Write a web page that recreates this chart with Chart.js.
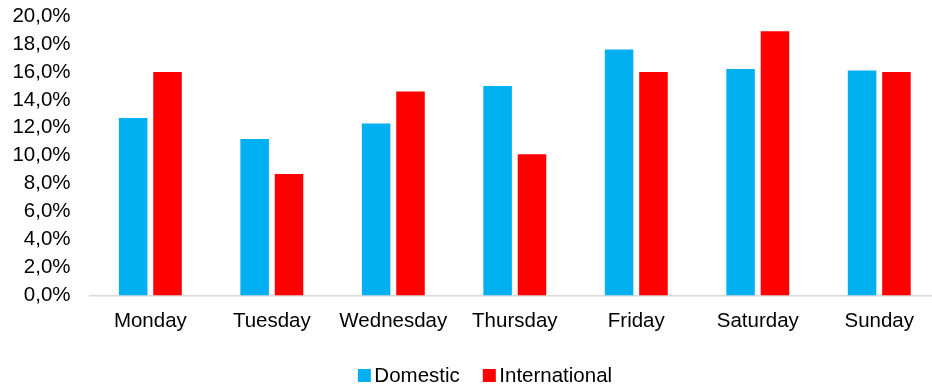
<!DOCTYPE html>
<html>
<head>
<meta charset="utf-8">
<script src="https://cdn.jsdelivr.net/npm/chart.js@4/dist/chart.umd.min.js"></script>
<style>
  html, body { margin: 0; padding: 0; background: #fff; overflow: hidden; }
  #wrap { width: 942px; height: 385px; position: relative; }
</style>
</head>
<body>
<div id="wrap"><canvas id="chart"></canvas></div>
<script>
// Share of trips by day of week
const days = ['Monday', 'Tuesday', 'Wednesday', 'Thursday', 'Friday', 'Saturday', 'Sunday'];
const seriesNames = ['Domestic', 'International'];
const domestic = [12.7, 11.2, 12.3, 15.0, 17.6, 16.2, 16.1];
const international = [16.0, 8.7, 14.6, 10.1, 16.0, 18.9, 16.0];
const yTicks = [0, 2, 4, 6, 8, 10, 12, 14, 16, 18, 20];

const FONT = { family: '"Liberation Sans", Arial, sans-serif', size: 20.5 };

// Compact legend under the axis: small square swatch, tight gap to the text
const bottomLegend = {
  id: 'bottomLegend',
  afterDraw(chart) {
    const ctx = chart.ctx;
    const box = 13, gapText = 3.5, gapItem = 23;
    const cy = 375.5;
    ctx.save();
    ctx.font = FONT.size + 'px ' + FONT.family;
    ctx.textBaseline = 'middle';
    ctx.textAlign = 'left';
    const items = chart.data.datasets.map(ds => ({
      text: ds.label, color: ds.backgroundColor, w: box + gapText + ctx.measureText(ds.label).width
    }));
    const total = items.reduce((s, it) => s + it.w, 0) + gapItem * (items.length - 1);
    let x = chart.width / 2 + 14 - total / 2;
    items.forEach(it => {
      ctx.fillStyle = it.color;
      ctx.fillRect(x, cy - box / 2, box, box);
      ctx.fillStyle = '#000';
      ctx.fillText(it.text, x + box + gapText, cy + 1);
      x += it.w + gapItem;
    });
    ctx.restore();
  }
};

new Chart(document.getElementById('chart'), {
  type: 'bar',
  data: {
    labels: days,
    datasets: [
      { label: seriesNames[0], data: domestic, backgroundColor: '#00B0F0', borderWidth: 0,
        categoryPercentage: 0.566, barPercentage: 0.83 },
      { label: seriesNames[1], data: international, backgroundColor: '#FF0000', borderWidth: 0,
        categoryPercentage: 0.566, barPercentage: 0.83 }
    ]
  },
  plugins: [bottomLegend],
  options: {
    responsive: true,
    maintainAspectRatio: false,
    animation: false,
    devicePixelRatio: 1,
    layout: { padding: { left: 0, top: 16, right: 2, bottom: 52 } },
    plugins: {
      tooltip: { enabled: false },
      legend: { display: false }
    },
    scales: {
      x: {
        afterFit: (scale) => {
          scale.height = 37.5;
          scale.paddingLeft = 0; scale.paddingRight = 0;
        },
        grid: { display: false, drawTicks: false },
        border: { display: true, color: '#D9D9D9', width: 1.5 },
        ticks: { font: FONT, color: '#000', padding: 13.5, maxRotation: 0 }
      },
      y: {
        min: 0,
        max: 20,
        afterBuildTicks: (scale) => { scale.ticks = yTicks.map(v => ({ value: v })); },
        afterFit: (scale) => {
          scale.width = 89.6;
          scale.paddingTop = 0; scale.paddingBottom = 0;
        },
        grid: { display: false, drawTicks: false },
        border: { display: false },
        ticks: {
          font: FONT,
          color: '#000',
          padding: 19,
          autoSkip: false,
          callback: (v) => v.toFixed(1).replace('.', ',') + '%'
        }
      }
    }
  }
});
</script>
</body>
</html>
